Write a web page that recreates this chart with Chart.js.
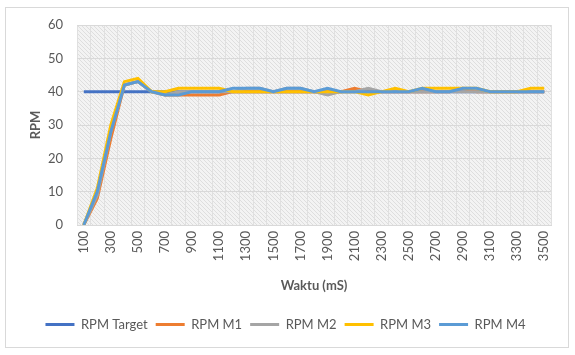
<!DOCTYPE html>
<html>
<head>
<meta charset="utf-8">
<script src="https://cdn.jsdelivr.net/npm/chart.js@4.4.1/dist/chart.umd.min.js"></script>
<style>
html,body{margin:0;padding:0;background:#fff;}
#wrap{position:absolute;left:0;top:0;width:575px;height:355px;}
</style>
</head>
<body>
<div id="wrap"><canvas id="c" width="575" height="355"></canvas></div>
<script>
const categories = [100,200,300,400,500,600,700,800,900,1000,1100,1200,1300,1400,1500,1600,1700,1800,1900,2000,2100,2200,2300,2400,2500,2600,2700,2800,2900,3000,3100,3200,3300,3400,3500];
const rpmTarget = [40,40,40,40,40,40,40,40,40,40,40,40,40,40,40,40,40,40,40,40,40,40,40,40,40,40,40,40,40,40,40,40,40,40,40];
const rpmM1 = [0,8,26,42,43,40,39,39,39,39,39,40,40,40,40,40,40,40,40,40,41,40,40,40,40,40,40,40,41,40,40,40,40,40,40];
const rpmM2 = [0,9,28,42,43,40,39,40,40,40,40,40,41,41,40,41,41,40,39,40,40,41,40,40,40,40,40,40,40,40,40,40,40,40,40];
const rpmM3 = [0,11,30,43,44,40,40,41,41,41,41,40,40,40,40,40,40,40,40,40,40,39,40,41,40,41,41,41,41,41,40,40,40,41,41];
const rpmM4 = [0,10,28,42,43,40,39,39,40,40,40,41,41,41,40,41,41,40,41,40,40,40,40,40,40,41,40,40,41,41,40,40,40,40,40];
const yTicks = [0,10,20,30,40,50,60];

const FONT = "Lato, 'Open Sans', sans-serif";

function makePattern(){
  const p = document.createElement('canvas');
  p.width = 4; p.height = 4;
  const g = p.getContext('2d');
  g.fillStyle = '#f3f3f3';
  g.fillRect(0,0,4,4);
  g.fillStyle = '#dedede';
  for (let i=0;i<4;i++){ g.fillRect(i,i,1,1); }
  return p;
}

const bgPlugin = {
  id: 'bgPlugin',
  beforeDraw(chart){
    const ctx = chart.ctx;
    ctx.save();
    ctx.fillStyle = '#ffffff';
    ctx.fillRect(0,0,chart.width,chart.height);
    ctx.strokeStyle = '#d9d9d9';
    ctx.lineWidth = 1;
    ctx.strokeRect(5.5,7.5,563,340);
    const a = chart.chartArea;
    ctx.fillStyle = ctx.createPattern(makePattern(),'repeat');
    ctx.fillRect(a.left,a.top,a.right-a.left,a.bottom-a.top);
    ctx.restore();
  }
};

function ds(label, data, color, order){
  return {label, data, borderColor: color, backgroundColor: color, borderWidth: 3,
    pointRadius: 0, pointHoverRadius: 0, tension: 0, fill: false, order};
}

new Chart(document.getElementById('c'), {
  type: 'line',
  data: {
    labels: categories,
    datasets: [
      ds('RPM Target', rpmTarget, '#4472C4', 5),
      ds('RPM M1', rpmM1, '#ED7D31', 4),
      ds('RPM M2', rpmM2, '#A5A5A5', 3),
      ds('RPM M3', rpmM3, '#FFC000', 2),
      ds('RPM M4', rpmM4, '#5B9BD5', 1)
    ]
  },
  options: {
    responsive: false,
    animation: false,
    layout: {padding: {left: 20, right: 24, top: 25, bottom: 14}},
    plugins: {
      tooltip: {enabled: false},
      legend: {
        position: 'bottom',
        reverse: true,
        labels: {
          usePointStyle: true, pointStyle: 'line', pointStyleWidth: 29, boxHeight: 13,
          color: '#595959', font: {family: FONT, size: 13}, padding: 8
        }
      }
    },
    scales: {
      x: {
        offset: true,
        grid: {offset: true, color: '#e0e0e0', drawTicks: false},
        border: {color: '#d9d9d9'},
        ticks: {
          autoSkip: false, maxRotation: 90, minRotation: 90, padding: 6,
          color: '#595959', font: {family: FONT, size: 13},
          callback: function(v, i){ return i % 2 === 0 ? String(categories[i]) : ''; }
        },
        title: {display: true, text: 'Waktu (mS)', color: '#595959',
          font: {family: FONT, size: 13, weight: 'bold'}, padding: {top: 4, bottom: 16}},
        afterFit(s){ s.height = 85; }
      },
      y: {
        min: 0, max: 60,
        afterBuildTicks(s){ s.ticks = yTicks.map(v => ({value: v})); },
        grid: {color: '#d9d9d9', drawTicks: false},
        border: {display: false},
        ticks: {padding: 14, color: '#595959', font: {family: FONT, size: 13}},
        title: {display: true, text: 'RPM', color: '#595959',
          font: {family: FONT, size: 13, weight: 'bold'}, padding: {top: 8, bottom: 0}},
        afterFit(s){ s.width = 57; }
      }
    }
  },
  plugins: [bgPlugin]
});
</script>
</body>
</html>
